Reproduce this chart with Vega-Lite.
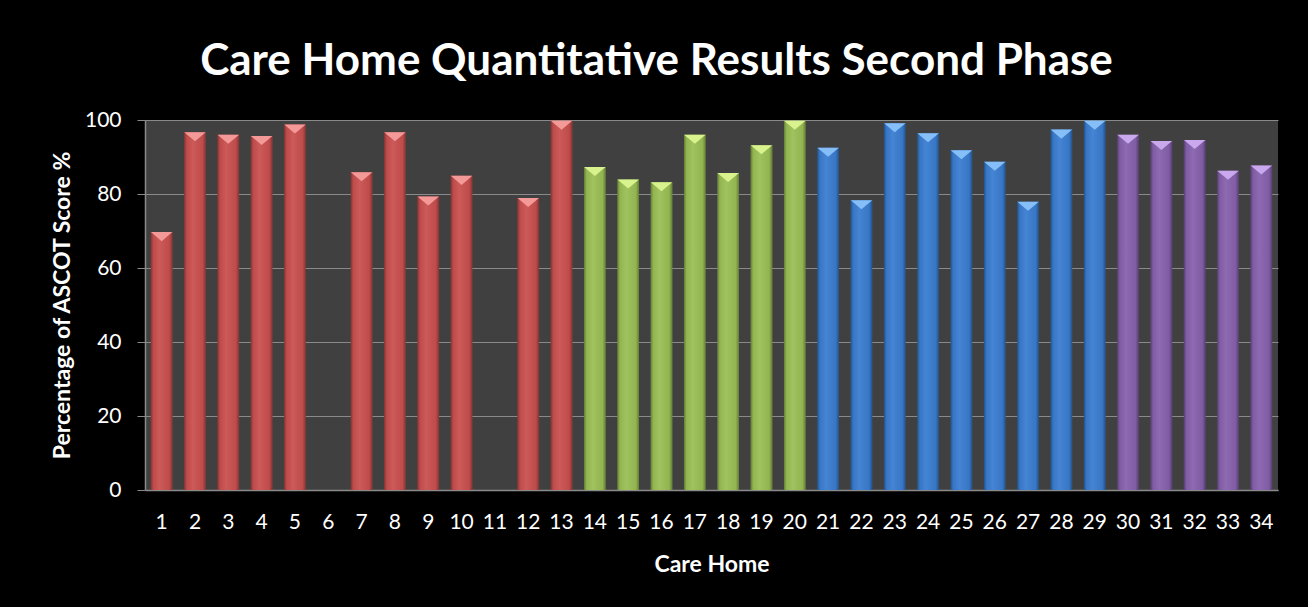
{
  "$schema": "https://vega.github.io/schema/vega-lite/v6.json",
  "autosize": {"type": "none"},
  "width": 1133,
  "height": 370,
  "padding": {"left": 145, "top": 120, "right": 30, "bottom": 117},
  "background": "#000000",
  "view": {"fill": "#404040", "stroke": null},
  "title": {
    "text": "Care Home Quantitative Results Second Phase",
    "font": "Lato",
    "fontSize": 44,
    "fontWeight": "bold",
    "color": "#ffffff",
    "anchor": "middle",
    "dx": -55,
    "offset": 25
  },
  "data": {
    "values": [
      {"home": "1", "score": 69.7, "group": "A"},
      {"home": "2", "score": 96.7, "group": "A"},
      {"home": "3", "score": 96.0, "group": "A"},
      {"home": "4", "score": 95.7, "group": "A"},
      {"home": "5", "score": 98.8, "group": "A"},
      {"home": "7", "score": 85.9, "group": "A"},
      {"home": "8", "score": 96.7, "group": "A"},
      {"home": "9", "score": 79.3, "group": "A"},
      {"home": "10", "score": 84.9, "group": "A"},
      {"home": "12", "score": 78.9, "group": "A"},
      {"home": "13", "score": 99.8, "group": "A"},
      {"home": "14", "score": 87.3, "group": "B"},
      {"home": "15", "score": 83.9, "group": "B"},
      {"home": "16", "score": 83.2, "group": "B"},
      {"home": "17", "score": 96.0, "group": "B"},
      {"home": "18", "score": 85.7, "group": "B"},
      {"home": "19", "score": 93.2, "group": "B"},
      {"home": "20", "score": 99.8, "group": "B"},
      {"home": "21", "score": 92.5, "group": "C"},
      {"home": "22", "score": 78.3, "group": "C"},
      {"home": "23", "score": 99.1, "group": "C"},
      {"home": "24", "score": 96.4, "group": "C"},
      {"home": "25", "score": 91.8, "group": "C"},
      {"home": "26", "score": 88.7, "group": "C"},
      {"home": "27", "score": 77.9, "group": "C"},
      {"home": "28", "score": 97.4, "group": "C"},
      {"home": "29", "score": 99.8, "group": "C"},
      {"home": "30", "score": 96.0, "group": "D"},
      {"home": "31", "score": 94.3, "group": "D"},
      {"home": "32", "score": 94.6, "group": "D"},
      {"home": "33", "score": 86.3, "group": "D"},
      {"home": "34", "score": 87.7, "group": "D"}
    ]
  },
  "encoding": {
    "x": {
      "field": "home",
      "type": "ordinal",
      "sort": null,
      "scale": {
        "domain": ["1","2","3","4","5","6","7","8","9","10","11","12","13","14","15","16","17","18","19","20","21","22","23","24","25","26","27","28","29","30","31","32","33","34"],
        "paddingInner": 0,
        "paddingOuter": 0
      },
      "axis": {
        "title": "Care Home",
        "labelAngle": 0,
        "ticks": false,
        "grid": false,
        "domainColor": "#8a8a8a",
        "domainWidth": 1.5,
        "labelFont": "Lato",
        "labelFontSize": 21,
        "labelColor": "#ffffff",
        "labelPadding": 21,
        "titleFont": "Lato",
        "titleFontSize": 23,
        "titleFontWeight": "bold",
        "titleColor": "#ffffff",
        "titlePadding": 21
      }
    },
    "y": {
      "field": "score",
      "type": "quantitative",
      "scale": {"domain": [0, 100], "nice": false},
      "axis": {
        "title": "Percentage of ASCOT Score %",
        "values": [0, 20, 40, 60, 80, 100],
        "grid": true,
        "gridColor": "#8a8a8a",
        "gridWidth": 1.2,
        "domainColor": "#8a8a8a",
        "domainWidth": 1.5,
        "tickColor": "#8a8a8a",
        "tickSize": 8,
        "labelFont": "Lato",
        "labelFontSize": 21,
        "labelColor": "#ffffff",
        "labelPadding": 16,
        "titleFont": "Lato",
        "titleFontSize": 23,
        "titleFontWeight": "bold",
        "titleColor": "#ffffff",
        "titlePadding": 10
      }
    }
  },
  "layer": [
    {
      "mark": {"type": "bar", "width": {"band": 0.65}},
      "encoding": {
        "color": {
          "field": "group",
          "type": "nominal",
          "scale": {"domain": ["A", "B", "C", "D"], "range": ["#c9504f", "#9bbf55", "#3a7dd0", "#8661ad"]},
          "legend": null
        }
      }
    },
    {
      "mark": {
        "type": "bar",
        "width": {"band": 0.65},
        "fill": {
          "gradient": "linear",
          "x1": 0, "x2": 1, "y1": 0, "y2": 0,
          "stops": [
            {"offset": 0, "color": "rgba(0,0,0,0.35)"},
            {"offset": 0.12, "color": "rgba(0,0,0,0.05)"},
            {"offset": 0.4, "color": "rgba(255,255,255,0.06)"},
            {"offset": 0.85, "color": "rgba(0,0,0,0.05)"},
            {"offset": 1, "color": "rgba(0,0,0,0.35)"}
          ]
        }
      },
      "encoding": {}
    },
    {
      "mark": {
        "type": "point",
        "shape": "M-1,-1L1,-1L0,-0.16Z",
        "filled": true,
        "opacity": 1,
        "size": 462,
        "yOffset": 10.75
      },
      "encoding": {
        "color": {
          "field": "group",
          "type": "nominal",
          "scale": {"domain": ["A", "B", "C", "D"], "range": ["#f39a98", "#d8f28e", "#86bff7", "#c9a8ee"]},
          "legend": null
        }
      }
    }
  ],
  "resolve": {"scale": {"color": "independent"}}
}
